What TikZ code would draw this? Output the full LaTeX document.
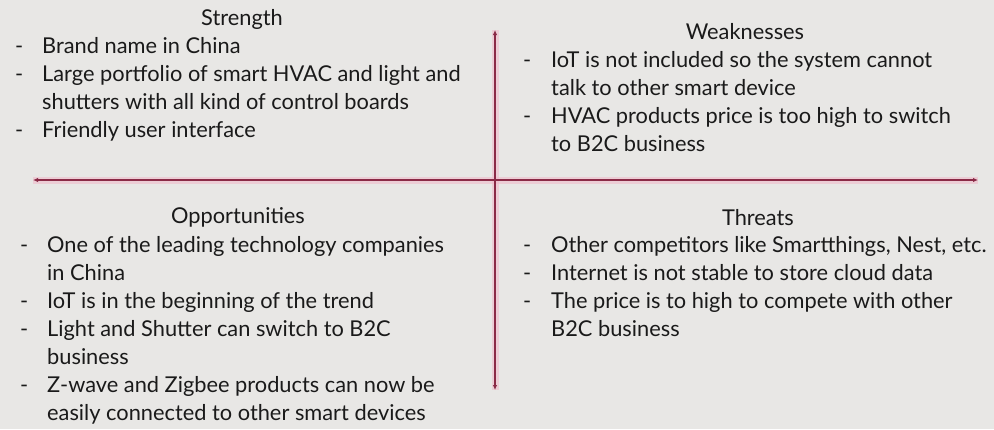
\documentclass[tikz,border=0pt]{standalone}
\usepackage{fontspec}
\setmainfont{Lato}
\usetikzlibrary{arrows.meta}
\definecolor{swotbg}{HTML}{E8E7E5}
\definecolor{axisred}{HTML}{8A2A46}
\definecolor{axisglow}{HTML}{F0BCCB}
\definecolor{swottext}{HTML}{1A1A1A}
\newcommand{\swotfont}{\fontsize{21.8}{28}\selectfont}

\begin{document}
\begin{tikzpicture}[x=1pt,y=-1pt,
    axis/.style={axisred, line width=1.3pt, {Latex[length=5pt,width=4.5pt]}-{Latex[length=5pt,width=4.5pt]}},
    glow/.style={axisglow, line width=7pt, opacity=0.6},
    heading/.style={anchor=base, inner sep=0pt, text=swottext, font=\swotfont},
    items/.style={anchor=base west, inner sep=0pt, text=swottext, font=\swotfont}]

    % Background
    \fill[swotbg] (0,0) rectangle (994,429);

    % Draw the axes
    \coordinate (left) at (33,180);
    \coordinate (right) at (978,180);
    \coordinate (top) at (495,30);
    \coordinate (bottom) at (495,390);
    \draw[glow] (left) -- (right);
    \draw[glow] (top) -- (bottom);
    \draw[axis] (left) -- (right);
    \draw[axis] (top) -- (bottom);

    % Strength
    \node[heading] (strength) at (242,25) {Strength};
    \node[items] (strengthlist) at (15,53) {\begin{tabular}[t]{@{}p{27pt}@{}l@{}}
        - & Brand name in China\\
        - & Large portfolio of smart HVAC and light and\\
          & shutters with all kind of control boards\\
        - & Friendly user interface
    \end{tabular}};

    % Weaknesses
    \node[heading] (weak) at (745,39) {Weaknesses};
    \node[items] (weaklist) at (523,67) {\begin{tabular}[t]{@{}p{28pt}@{}l@{}}
        - & IoT is not included so the system cannot\\
          & talk to other smart device\\
        - & HVAC products price is too high to switch\\
          & to B2C business
    \end{tabular}};

    % Opportunities
    \node[heading] (opp) at (238,223) {Opportunities};
    \node[items] (opplist) at (20,252) {\begin{tabular}[t]{@{}p{27pt}@{}l@{}}
        - & One of the leading technology companies\\
          & in China\\
        - & IoT is in the beginning of the trend\\
        - & Light and Shutter can switch to B2C\\
          & business\\
        - & Z-wave and Zigbee products can now be\\
          & easily connected to other smart devices
    \end{tabular}};

    % Threats
    \node[heading] (threat) at (758,225) {Threats};
    \node[items] (threatlist) at (523,252) {\begin{tabular}[t]{@{}p{28pt}@{}l@{}}
        - & Other competitors like Smartthings, Nest, etc.\\
        - & Internet is not stable to store cloud data\\
        - & The price is to high to compete with other\\
          & B2C business
    \end{tabular}};
\end{tikzpicture}
\end{document}
